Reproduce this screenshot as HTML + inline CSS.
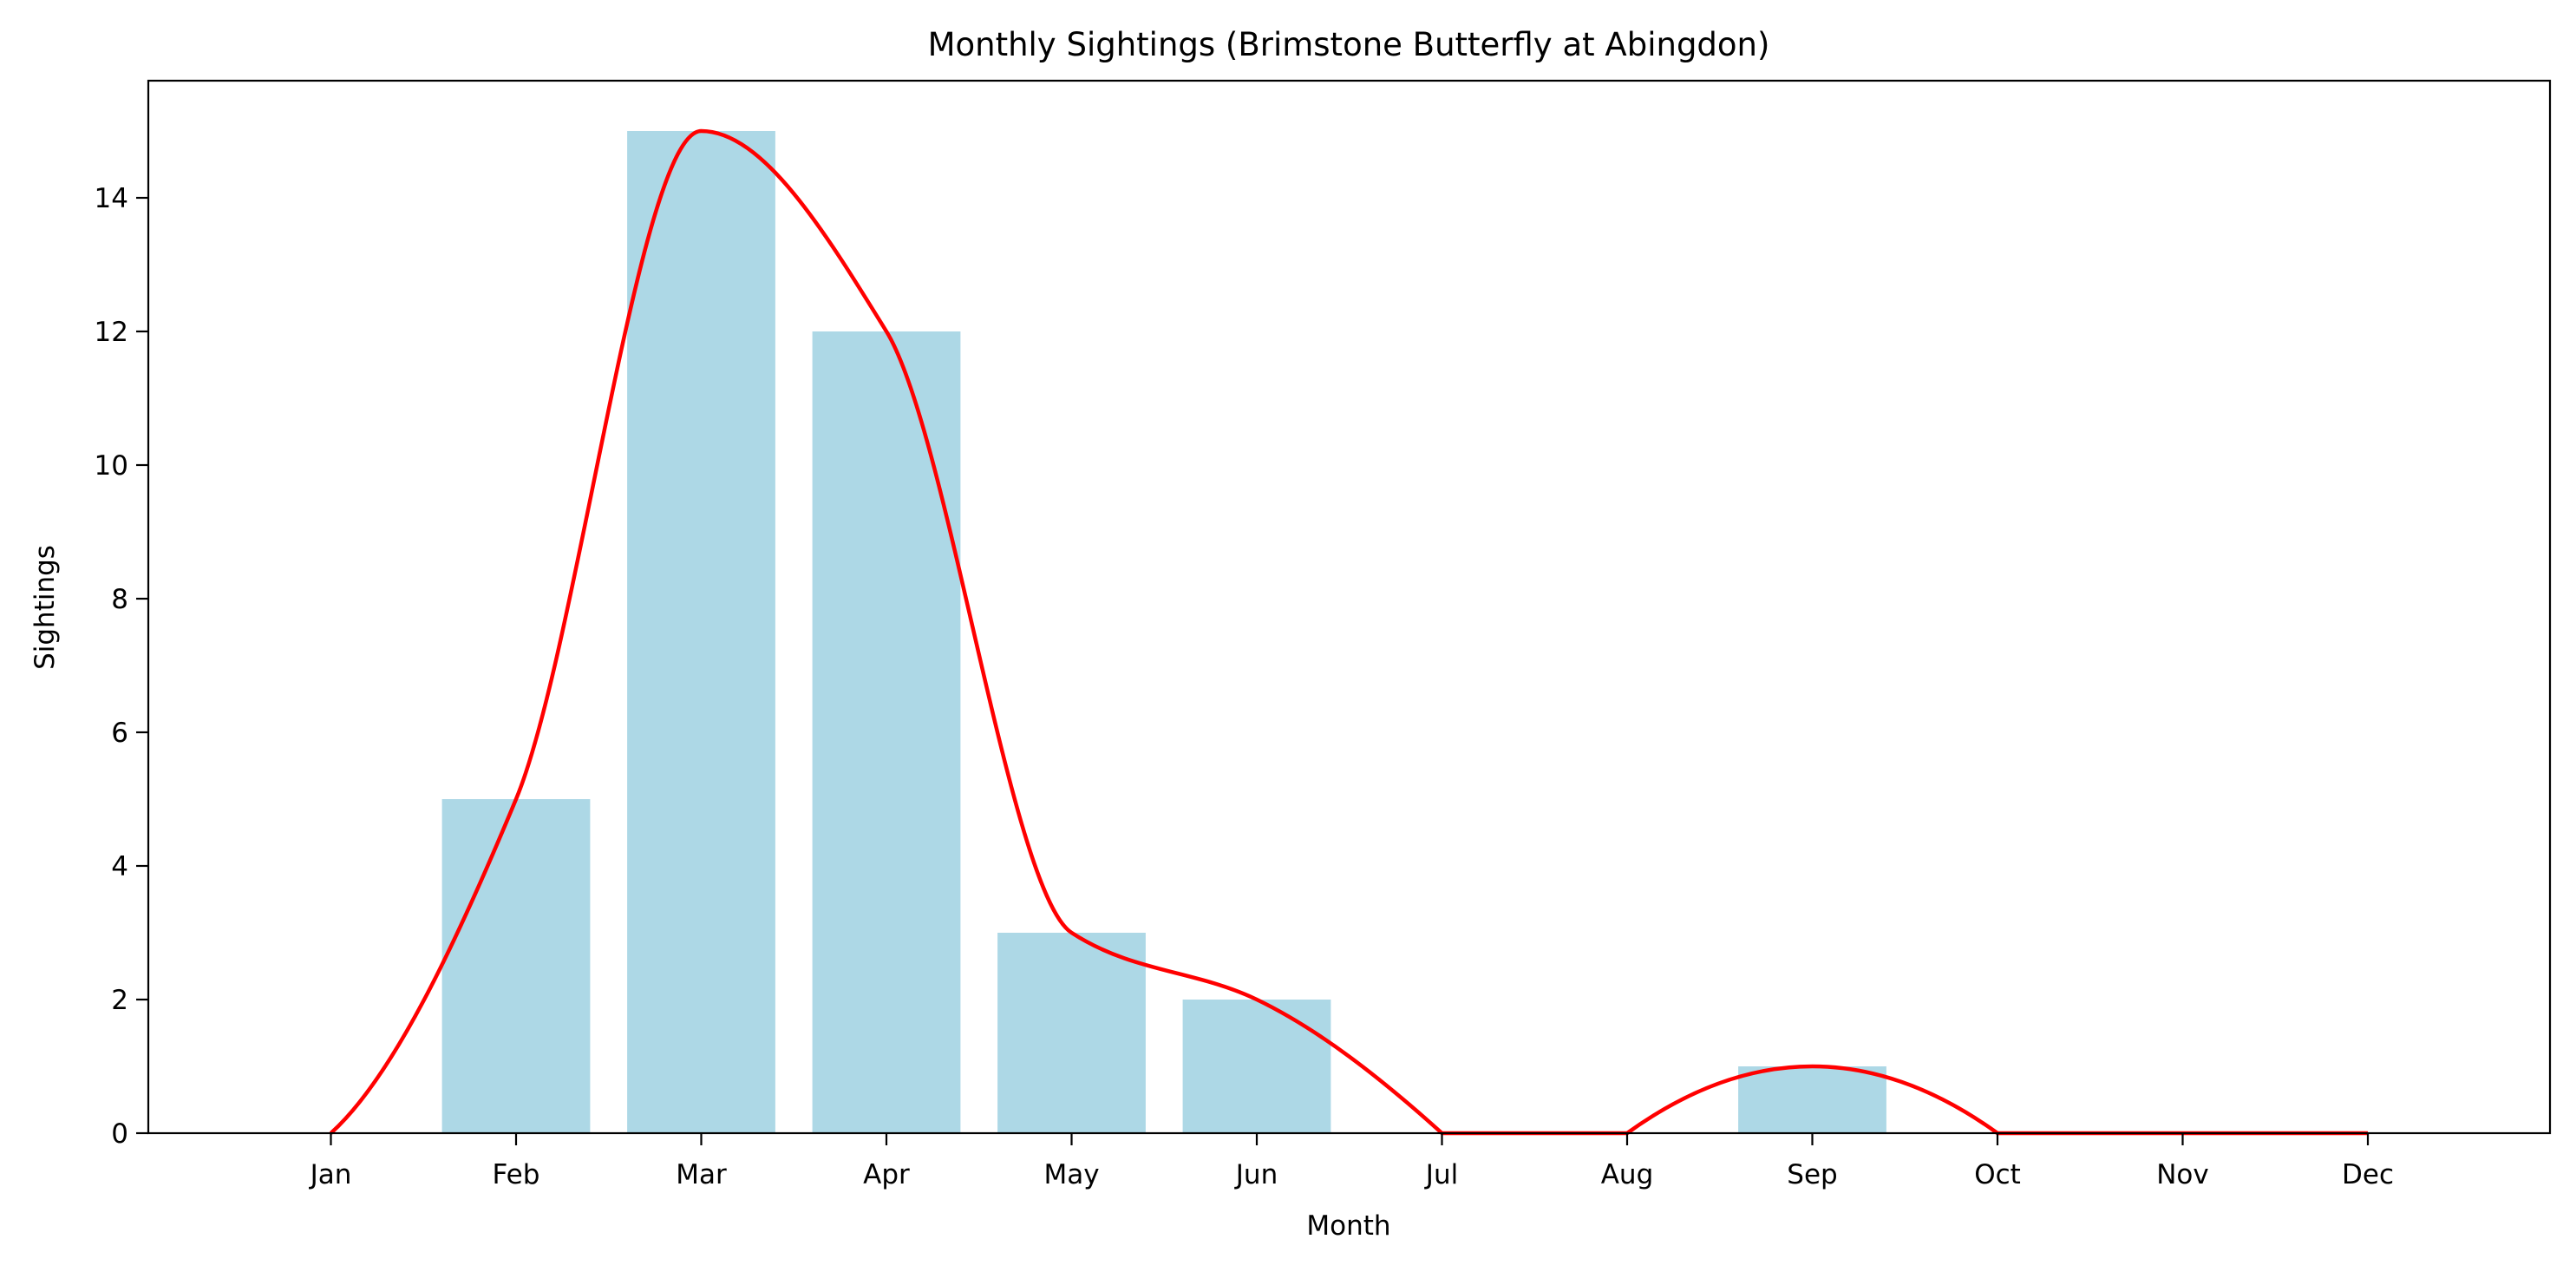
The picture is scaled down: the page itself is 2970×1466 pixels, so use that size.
<!DOCTYPE html>
<html><head><meta charset="utf-8"><style>
html,body{margin:0;padding:0;background:#fff;}
svg{display:block;font-family:"DejaVu Sans","Liberation Sans",sans-serif;}
</style></head><body>
<svg id="s" width="2970" height="1466" viewBox="0 0 2970 1466" xmlns="http://www.w3.org/2000/svg">
<rect width="2970" height="1466" fill="#fff"/>
<g id="bars" fill="#add8e6"></g>
<path id="curve" fill="none" stroke="#ff0000" stroke-width="4.5" stroke-linejoin="round" stroke-linecap="butt"/>
<rect x="171" y="93" width="2769" height="1213" fill="none" stroke="#000" stroke-width="2.2"/>
<g id="ticks" stroke="#000" stroke-width="2.2"></g>
<g id="labels" font-size="31" fill="#000"></g>
<text x="1555" y="64" font-size="37" text-anchor="middle">Monthly Sightings (Brimstone Butterfly at Abingdon)</text>
<text x="1555" y="1423" font-size="31" text-anchor="middle">Month</text>
<text transform="translate(62,700) rotate(-90)" font-size="31" text-anchor="middle">Sightings</text>
</svg>
<script>
var NS="http://www.w3.org/2000/svg";
function X(i){return 381.5+213.5*i;}
function Y(v){return 1306-77*v;}
var y=[0,5,15,12,3,2,0,0,1,0,0,0];
// per-segment [start derivative, end derivative]
var seg=[[2.5,6.6667],[6.6667,0],[0,-4.5],[-4.5,-1.8],[-1.8,-1.3333],[-1.3333,-2.5],[0,0],[2,0],[0,-2],[0,0],[0,0]];
var months=["Jan","Feb","Mar","Apr","May","Jun","Jul","Aug","Sep","Oct","Nov","Dec"];
var bars=document.getElementById("bars"),ticks=document.getElementById("ticks"),labels=document.getElementById("labels");
function el(t,a,p){var e=document.createElementNS(NS,t);for(var k in a)e.setAttribute(k,a[k]);p.appendChild(e);return e;}
for(var i=0;i<12;i++){
 if(y[i]>0) el("rect",{x:X(i)-85.4,y:Y(y[i]),width:170.8,height:77*y[i]},bars);
 el("line",{x1:X(i),y1:1306,x2:X(i),y2:1320},ticks);
 var t=el("text",{x:X(i),y:1364,"text-anchor":"middle"},labels);t.textContent=months[i];
}
for(var v=0;v<=14;v+=2){
 el("line",{x1:157,y1:Y(v),x2:171,y2:Y(v)},ticks);
 var t=el("text",{x:148,y:Y(v)+11,"text-anchor":"end"},labels);t.textContent=v;
}
var p="M"+X(0)+","+Y(0);
for(var i=0;i<11;i++){
 var h=213.5/3;
 p+=" C"+(X(i)+h)+","+Y(y[i]+seg[i][0]/3)+" "+(X(i+1)-h)+","+Y(y[i+1]-seg[i][1]/3)+" "+X(i+1)+","+Y(y[i+1]);
}
document.getElementById("curve").setAttribute("d",p);
</script>
</body></html>
